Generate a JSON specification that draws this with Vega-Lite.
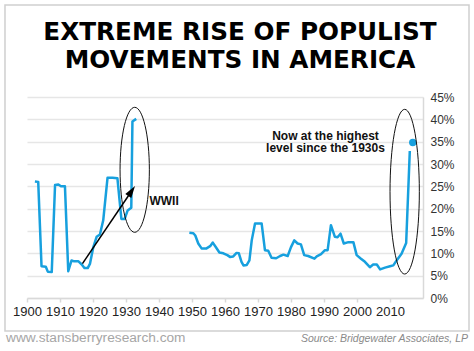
{
  "$schema": "https://vega.github.io/schema/vega-lite/v6.json",
  "width": 396,
  "height": 201,
  "autosize": {"type": "none"},
  "padding": {"left": 27, "top": 97, "right": 51, "bottom": 53},
  "background": "white",
  "config": {"view": {"stroke": null}},
  "resolve": {"axis": {"x": "independent", "y": "independent"}},
  "title": {
    "text": ["EXTREME RISE OF POPULIST", "MOVEMENTS IN AMERICA"],
    "font": "DejaVu Sans",
    "fontWeight": "bold",
    "fontSize": 24.7,
    "lineHeight": 28,
    "color": "#000000",
    "anchor": "middle",
    "frame": "group",
    "baseline": "bottom",
    "dx": 15,
    "offset": -93
  },
  "datasets": {
    "series": [
      {"year": 1902.4, "value": 26.1, "period": "pre"},
      {"year": 1903.4, "value": 26.0, "period": "pre"},
      {"year": 1904.4, "value": 7.1, "period": "pre"},
      {"year": 1905.7, "value": 7.0, "period": "pre"},
      {"year": 1906.3, "value": 5.9, "period": "pre"},
      {"year": 1907.5, "value": 5.8, "period": "pre"},
      {"year": 1908.5, "value": 25.3, "period": "pre"},
      {"year": 1909.5, "value": 25.4, "period": "pre"},
      {"year": 1910.3, "value": 25.0, "period": "pre"},
      {"year": 1911.5, "value": 25.0, "period": "pre"},
      {"year": 1912.5, "value": 6.0, "period": "pre"},
      {"year": 1913.5, "value": 8.4, "period": "pre"},
      {"year": 1914.3, "value": 8.2, "period": "pre"},
      {"year": 1915.6, "value": 8.2, "period": "pre"},
      {"year": 1916.6, "value": 7.5, "period": "pre"},
      {"year": 1917.4, "value": 6.7, "period": "pre"},
      {"year": 1918.4, "value": 6.7, "period": "pre"},
      {"year": 1919.1, "value": 7.7, "period": "pre"},
      {"year": 1920.1, "value": 11.4, "period": "pre"},
      {"year": 1921.1, "value": 13.7, "period": "pre"},
      {"year": 1922.1, "value": 14.2, "period": "pre"},
      {"year": 1923.1, "value": 17.4, "period": "pre"},
      {"year": 1924.4, "value": 26.9, "period": "pre"},
      {"year": 1925.9, "value": 26.9, "period": "pre"},
      {"year": 1927.4, "value": 26.8, "period": "pre"},
      {"year": 1928.6, "value": 17.7, "period": "pre"},
      {"year": 1929.6, "value": 17.7, "period": "pre"},
      {"year": 1930.5, "value": 19.6, "period": "pre"},
      {"year": 1931.6, "value": 20.2, "period": "pre"},
      {"year": 1931.95, "value": 39.5, "period": "pre"},
      {"year": 1933.1, "value": 40.1, "period": "pre"},
      {"year": 1949.2, "value": 14.6, "period": "post"},
      {"year": 1950.4, "value": 14.5, "period": "post"},
      {"year": 1951.0, "value": 14.0, "period": "post"},
      {"year": 1951.9, "value": 12.2, "period": "post"},
      {"year": 1952.9, "value": 11.1, "period": "post"},
      {"year": 1954.4, "value": 11.1, "period": "post"},
      {"year": 1955.5, "value": 11.6, "period": "post"},
      {"year": 1956.3, "value": 12.4, "period": "post"},
      {"year": 1957.3, "value": 11.3, "period": "post"},
      {"year": 1958.3, "value": 10.2, "period": "post"},
      {"year": 1959.5, "value": 10.0, "period": "post"},
      {"year": 1960.7, "value": 9.6, "period": "post"},
      {"year": 1961.5, "value": 9.2, "period": "post"},
      {"year": 1962.5, "value": 9.3, "period": "post"},
      {"year": 1963.5, "value": 10.1, "period": "post"},
      {"year": 1964.2, "value": 10.0, "period": "post"},
      {"year": 1965.0, "value": 8.1, "period": "post"},
      {"year": 1965.6, "value": 7.3, "period": "post"},
      {"year": 1966.6, "value": 7.4, "period": "post"},
      {"year": 1967.4, "value": 8.4, "period": "post"},
      {"year": 1968.1, "value": 12.9, "period": "post"},
      {"year": 1969.1, "value": 16.7, "period": "post"},
      {"year": 1971.1, "value": 16.7, "period": "post"},
      {"year": 1972.1, "value": 10.7, "period": "post"},
      {"year": 1973.1, "value": 10.6, "period": "post"},
      {"year": 1974.1, "value": 9.0, "period": "post"},
      {"year": 1975.5, "value": 8.9, "period": "post"},
      {"year": 1976.7, "value": 9.4, "period": "post"},
      {"year": 1977.7, "value": 9.7, "period": "post"},
      {"year": 1979.0, "value": 9.4, "period": "post"},
      {"year": 1980.0, "value": 11.4, "period": "post"},
      {"year": 1981.0, "value": 12.9, "period": "post"},
      {"year": 1982.0, "value": 12.2, "period": "post"},
      {"year": 1983.0, "value": 12.0, "period": "post"},
      {"year": 1984.0, "value": 9.6, "period": "post"},
      {"year": 1985.2, "value": 9.4, "period": "post"},
      {"year": 1987.1, "value": 8.8, "period": "post"},
      {"year": 1987.8, "value": 9.3, "period": "post"},
      {"year": 1989.1, "value": 9.8, "period": "post"},
      {"year": 1990.3, "value": 10.7, "period": "post"},
      {"year": 1991.1, "value": 10.7, "period": "post"},
      {"year": 1992.1, "value": 16.3, "period": "post"},
      {"year": 1993.3, "value": 13.7, "period": "post"},
      {"year": 1994.1, "value": 13.6, "period": "post"},
      {"year": 1995.0, "value": 14.4, "period": "post"},
      {"year": 1996.0, "value": 12.2, "period": "post"},
      {"year": 1997.4, "value": 12.5, "period": "post"},
      {"year": 1998.9, "value": 12.5, "period": "post"},
      {"year": 1999.9, "value": 9.6, "period": "post"},
      {"year": 2001.2, "value": 8.8, "period": "post"},
      {"year": 2002.4, "value": 8.1, "period": "post"},
      {"year": 2003.9, "value": 6.9, "period": "post"},
      {"year": 2004.9, "value": 7.5, "period": "post"},
      {"year": 2006.0, "value": 7.5, "period": "post"},
      {"year": 2007.0, "value": 6.4, "period": "post"},
      {"year": 2008.5, "value": 6.8, "period": "post"},
      {"year": 2010.0, "value": 7.1, "period": "post"},
      {"year": 2011.0, "value": 7.3, "period": "post"},
      {"year": 2012.0, "value": 8.4, "period": "post"},
      {"year": 2013.5, "value": 9.9, "period": "post"},
      {"year": 2014.9, "value": 12.3, "period": "post"},
      {"year": 2016.0, "value": 32.9, "period": "post"}
    ],
    "latest": [{"year": 2016.9, "value": 34.8}],
    "anchor": [{}]
  },
  "layer": [
    {
      "data": {"name": "series"},
      "mark": {"type": "line", "color": "#17a0de", "strokeWidth": 2.5, "strokeJoin": "round"},
      "encoding": {
        "x": {
          "field": "year", "type": "quantitative",
          "scale": {"domain": [1900, 2020], "nice": false, "zero": false},
          "axis": {
            "title": null, "values": [1900, 1910, 1920, 1930, 1940, 1950, 1960, 1970, 1980, 1990, 2000, 2010],
            "format": "d", "grid": false, "domainColor": "#d9d9d9", "domainWidth": 1.5,
            "tickColor": "#d9d9d9", "tickSize": 4, "tickWidth": 1.5,
            "labelFont": "Liberation Sans", "labelFontSize": 13, "labelColor": "#222222",
            "labelPadding": 3, "labelFlush": false, "labelOverlap": false
          }
        },
        "y": {
          "field": "value", "type": "quantitative",
          "scale": {"domain": [0, 45], "nice": false, "zero": true},
          "axis": {
            "title": null, "orient": "right", "values": [0, 5, 10, 15, 20, 25, 30, 35, 40, 45],
            "labelExpr": "datum.value + '%'", "grid": true, "gridColor": "#e6e6e6", "gridWidth": 1.5,
            "domain": true, "domainColor": "#d9d9d9", "domainWidth": 1.5, "ticks": false,
            "labelFont": "Liberation Sans", "labelFontSize": 12, "labelColor": "#333333",
            "labelPadding": 7, "labelFlush": false, "labelOverlap": false
          }
        },
        "detail": {"field": "period"}
      }
    },
    {
      "data": {"name": "anchor"},
      "mark": {"type": "rect", "fill": null, "stroke": "#cfcfcf", "strokeWidth": 1.5, "clip": false},
      "encoding": {
        "x": {"datum": 1893.33, "type": "quantitative", "axis": null},
        "x2": {"datum": 2033.94},
        "y": {"datum": 65.6, "type": "quantitative", "axis": null},
        "y2": {"datum": -7.39}
      }
    },
    {
      "data": {"name": "latest"},
      "mark": {"type": "point", "filled": true, "color": "#17a0de", "size": 55, "opacity": 1},
      "encoding": {
        "x": {"field": "year", "type": "quantitative", "axis": null},
        "y": {"field": "value", "type": "quantitative", "axis": null}
      }
    },
    {
      "data": {"name": "anchor"},
      "mark": {"type": "point", "shape": "M0,-1A0.2344,1 0 1,1 0,1A0.2344,1 0 1,1 0,-1Z", "size": 15625, "filled": false, "stroke": "#111111", "strokeWidth": 1, "opacity": 1, "clip": false},
      "encoding": {
        "x": {"datum": 1932.64, "type": "quantitative", "axis": null},
        "y": {"datum": 28.7, "type": "quantitative", "axis": null}
      }
    },
    {
      "data": {"name": "anchor"},
      "mark": {"type": "point", "shape": "M0,-1A0.178,1 0 1,1 0,1A0.178,1 0 1,1 0,-1Z", "size": 27126, "filled": false, "stroke": "#111111", "strokeWidth": 1, "opacity": 1, "clip": false},
      "encoding": {
        "x": {"datum": 2014.45, "type": "quantitative", "axis": null},
        "y": {"datum": 23.8, "type": "quantitative", "axis": null}
      }
    },
    {
      "data": {"name": "anchor"},
      "mark": {"type": "rule", "color": "#000000", "strokeWidth": 1.5},
      "encoding": {
        "x": {"datum": 1916.8, "type": "quantitative", "axis": null},
        "y": {"datum": 7.7, "type": "quantitative", "axis": null},
        "x2": {"datum": 1931.71},
        "y2": {"datum": 23.95}
      }
    },
    {
      "data": {"name": "anchor"},
      "mark": {"type": "point", "shape": "M0,-1L0.6,1L-0.6,1Z", "size": 144, "filled": true, "color": "#000000", "opacity": 1, "angle": 34},
      "encoding": {
        "x": {"datum": 1931.71, "type": "quantitative", "axis": null},
        "y": {"datum": 23.95, "type": "quantitative", "axis": null}
      }
    },
    {
      "data": {"name": "anchor"},
      "mark": {"type": "text", "text": "WWII", "font": "Liberation Sans", "fontWeight": "bold", "fontSize": 12, "color": "#111111", "align": "left", "baseline": "alphabetic"},
      "encoding": {
        "x": {"datum": 1937.1, "type": "quantitative", "axis": null},
        "y": {"datum": 20.75, "type": "quantitative", "axis": null}
      }
    },
    {
      "data": {"name": "anchor"},
      "mark": {"type": "text", "text": ["Now at the highest", "level since the 1930s"], "font": "Liberation Sans", "fontWeight": "bold", "fontSize": 12, "lineHeight": 12.5, "color": "#111111", "align": "center", "baseline": "alphabetic"},
      "encoding": {
        "x": {"datum": 1990.45, "type": "quantitative", "axis": null},
        "y": {"datum": 35.46, "type": "quantitative", "axis": null}
      }
    },
    {
      "data": {"name": "anchor"},
      "mark": {"type": "text", "text": "www.stansberryresearch.com", "font": "Liberation Sans", "fontSize": 13.7, "color": "#a6a6a6", "align": "left", "baseline": "alphabetic", "clip": false},
      "encoding": {
        "x": {"datum": 1893.64, "type": "quantitative", "axis": null},
        "y": {"datum": -9.96, "type": "quantitative", "axis": null}
      }
    },
    {
      "data": {"name": "anchor"},
      "mark": {"type": "text", "text": "Source: Bridgewater Associates, LP", "font": "Liberation Sans", "fontStyle": "italic", "fontSize": 10.5, "color": "#8a8a8a", "align": "right", "baseline": "alphabetic", "clip": false},
      "encoding": {
        "x": {"datum": 2033.64, "type": "quantitative", "axis": null},
        "y": {"datum": -9.96, "type": "quantitative", "axis": null}
      }
    }
  ]
}
